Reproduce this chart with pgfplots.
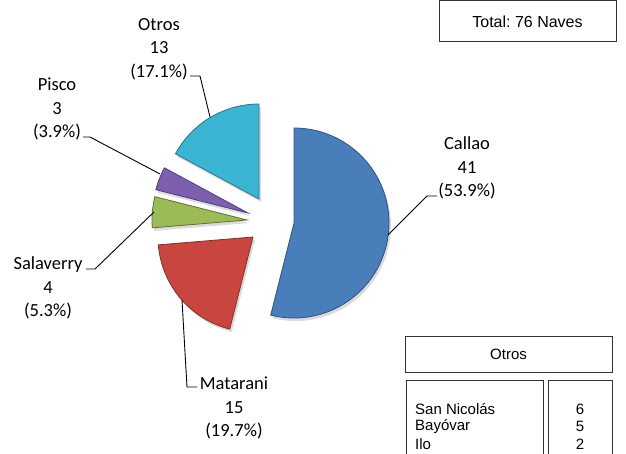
\documentclass[border=0pt]{standalone}
\usepackage{pgfplots}
\pgfplotsset{compat=1.18}
\usepackage{fontspec}
\setmainfont{Carlito}
\newfontfamily\arialf{Liberation Sans}
\frenchspacing

\definecolor{cCallao}{HTML}{4A7EBB}
\definecolor{cMatarani}{HTML}{C8463F}
\definecolor{cSalaverry}{HTML}{9BBB59}
\definecolor{cPisco}{HTML}{7D5FB0}
\definecolor{cOtros}{HTML}{3CB4D4}

% data (number of ships)
\def\vCallao{41}
\def\vMatarani{15}
\def\vSalaverry{4}
\def\vPisco{3}
\def\vOtros{13}

\pgfmathsetmacro\tot{\vCallao+\vMatarani+\vSalaverry+\vPisco+\vOtros}
\pgfmathsetmacro\aA{90}
\pgfmathsetmacro\aB{\aA-\vCallao/\tot*360}
\pgfmathsetmacro\aC{\aB-\vMatarani/\tot*360}
\pgfmathsetmacro\aD{\aC-\vSalaverry/\tot*360}
\pgfmathsetmacro\aE{\aD-\vPisco/\tot*360}
\pgfmathsetmacro\aF{\aE-\vOtros/\tot*360}
\def\R{95}

\begin{document}
\begin{tikzpicture}
\begin{axis}[x=1pt, y=1pt, xmin=0, xmax=626, ymin=0, ymax=453,
  hide axis, clip=false, scale only axis]

% soft shadows
\addplot[fill=black!14, draw=none, domain=\aB:\aA, samples=80, variable=\t]
  ({296+\R*cos(\t)},{227+\R*sin(\t)}) -- (axis cs:296,227) -- cycle;
\addplot[fill=black!14, draw=none, domain=\aC:\aB, samples=40, variable=\t]
  ({255+\R*cos(\t)},{213+\R*sin(\t)}) -- (axis cs:255,213) -- cycle;
\addplot[fill=black!14, draw=none, domain=\aD:\aC, samples=20, variable=\t]
  ({249+\R*cos(\t)},{230+\R*sin(\t)}) -- (axis cs:249,230) -- cycle;
\addplot[fill=black!14, draw=none, domain=\aE:\aD, samples=20, variable=\t]
  ({250+\R*cos(\t)},{237+\R*sin(\t)}) -- (axis cs:250,237) -- cycle;
\addplot[fill=black!14, draw=none, domain=\aF:\aE, samples=40, variable=\t]
  ({261+\R*cos(\t)},{251+\R*sin(\t)}) -- (axis cs:261,251) -- cycle;

% slices
\addplot[fill=cCallao, draw=cCallao!65!black, line width=0.8pt, domain=\aB:\aA, samples=80, variable=\t]
  ({294+\R*cos(\t)},{230+\R*sin(\t)}) -- (axis cs:294,230) -- cycle;
\addplot[fill=cMatarani, draw=cMatarani!65!black, line width=0.8pt, domain=\aC:\aB, samples=40, variable=\t]
  ({253+\R*cos(\t)},{216+\R*sin(\t)}) -- (axis cs:253,216) -- cycle;
\addplot[fill=cSalaverry, draw=cSalaverry!60!black, line width=0.8pt, domain=\aD:\aC, samples=20, variable=\t]
  ({247+\R*cos(\t)},{233+\R*sin(\t)}) -- (axis cs:247,233) -- cycle;
\addplot[fill=cPisco, draw=cPisco!65!black, line width=0.8pt, domain=\aE:\aD, samples=20, variable=\t]
  ({248+\R*cos(\t)},{240+\R*sin(\t)}) -- (axis cs:248,240) -- cycle;
\addplot[fill=cOtros, draw=cOtros!65!black, line width=0.8pt, domain=\aF:\aE, samples=40, variable=\t]
  ({259+\R*cos(\t)},{254+\R*sin(\t)}) -- (axis cs:259,254) -- cycle;

% leader lines
\addplot[black, line width=0.9pt] coordinates {(190,377) (200,377) (210,336)};
\addplot[black, line width=0.9pt] coordinates {(83,316) (90,316) (160,279)};
\addplot[black, line width=0.9pt] coordinates {(86,184) (95,184) (154,241)};
\addplot[black, line width=0.9pt] coordinates {(182,153) (187,66) (197,66)};
\addplot[black, line width=0.9pt] coordinates {(388,218) (427,257) (437,257)};

% data labels
\begin{scope}[every node/.style={align=center, inner sep=0pt, font=\fontsize{18.5}{23.5}\selectfont}]
\node at (axis cs:467,285) {Callao\\41\\(53.9\%)};
\node at (axis cs:159,404) {Otros\\13\\(17.1\%)};
\node at (axis cs:57,344) {Pisco\\3\\(3.9\%)};
\node at (axis cs:48,165) {Salaverry\\4\\(5.3\%)};
\node at (axis cs:234,45) {Matarani\\15\\(19.7\%)};
\end{scope}

% boxes
\draw[line width=1pt, draw=black!80] (axis cs:439,452) rectangle (axis cs:616,411);
\node[font=\arialf\fontsize{16}{18}\selectfont] at (axis cs:527.5,431.5) {Total: 76 Naves};
\draw[line width=1pt, draw=black!80] (axis cs:405,117) rectangle (axis cs:612,81);
\node[font=\arialf\fontsize{15}{17.5}\selectfont] at (axis cs:508.5,99) {Otros};
\draw[line width=1pt, draw=black!80] (axis cs:406,73) rectangle (axis cs:543,-20);
\draw[line width=1pt, draw=black!80] (axis cs:548,73) rectangle (axis cs:612,-20);
\begin{scope}[every node/.style={inner sep=0pt, font=\arialf\fontsize{15}{17.5}\selectfont}]
\node[anchor=west] at (axis cs:415,44) {San Nicolás};
\node[anchor=west] at (axis cs:415,26.5) {Bayóvar};
\node[anchor=west] at (axis cs:415,9) {Ilo};
\node at (axis cs:580,44) {6};
\node at (axis cs:580,26.5) {5};
\node at (axis cs:580,9) {2};
\end{scope}
\end{axis}
\pgfresetboundingbox
\path (current axis.south west) rectangle (current axis.north east);
\end{tikzpicture}
\end{document}
